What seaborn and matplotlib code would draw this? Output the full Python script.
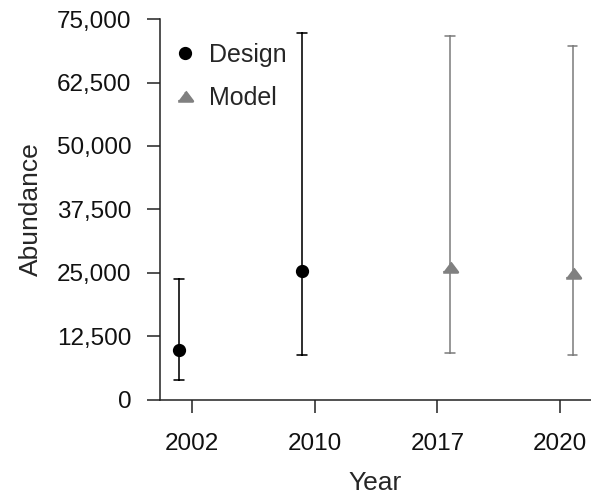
import matplotlib
matplotlib.use("Agg")
import matplotlib.pyplot as plt
from matplotlib.ticker import StrMethodFormatter
import pandas as pd
import seaborn as sns

# Abundance estimates with interval bounds per survey year
years = ["2002", "2010", "2017", "2020"]
methods = ["Design", "Design", "Model", "Model"]
estimates = [9800, 25400, 26200, 25000]
lower = [3900, 8800, 9300, 8800]
upper = [23800, 72200, 71700, 69700]

y_ticks = [0, 12500, 25000, 37500, 50000, 62500, 75000]
method_order = ["Design", "Model"]
palette = {"Design": "#000000", "Model": "#808080"}

# Long table: the median of (lower, estimate, upper) is the estimate and the
# full percentile interval spans lower..upper.
rows = []
for yr, m, est, lo, hi in zip(years, methods, estimates, lower, upper):
    for v in (lo, est, hi):
        rows.append({"Year": yr, "Method": m, "Abundance": v})
df = pd.DataFrame(rows)

sns.set_theme(style="ticks")
plt.rcParams["font.family"] = ["Liberation Sans", "DejaVu Sans"]

fig = plt.figure(figsize=(5.91, 4.95), dpi=100)
ax = fig.add_axes([0.2707, 0.192, 0.7293, 0.7696])

sns.pointplot(
    data=df, x="Year", y="Abundance", hue="Method",
    order=years, hue_order=method_order, palette=palette,
    estimator="median", errorbar=("pi", 100),
    dodge=0.2, markers=["o", [(-1.5, -1), (1.5, -1), (0, 1)]],
    linestyle="none", capsize=0.08,
    err_kws={"linewidth": 1.15}, ax=ax,
)

for line in ax.lines:
    if line.get_marker() == "o":
        line.set_markersize(7.5)
    elif line.get_linestyle() in ("None", "none", ""):
        line.set_markersize(10.5)

ax.set_ylim(0, 75000)
ax.set_xlim(-0.258, 3.25)
ax.set_yticks(y_ticks)
ax.yaxis.set_major_formatter(StrMethodFormatter("{x:,.0f}"))
ax.set_xlabel("Year", fontsize=19, labelpad=12)
ax.set_ylabel("Abundance", fontsize=19, labelpad=10)
ax.tick_params(axis="y", labelsize=17.5, length=9.5, width=1.1,
               color="#222222", labelcolor="#111111", pad=11)
ax.tick_params(axis="x", labelsize=17.5, length=9.5, width=1.1,
               color="#222222", labelcolor="#111111", pad=14)

sns.despine(ax=ax)
for side in ("left", "bottom"):
    ax.spines[side].set_linewidth(1.1)
    ax.spines[side].set_color("#222222")

leg = ax.legend(loc="upper left", bbox_to_anchor=(0.012, 0.958), frameon=False,
                fontsize=18, handletextpad=0.45, labelspacing=0.78,
                borderaxespad=0.0, borderpad=0.3, handlelength=1.0)

fig.savefig("out.png", dpi=100)
